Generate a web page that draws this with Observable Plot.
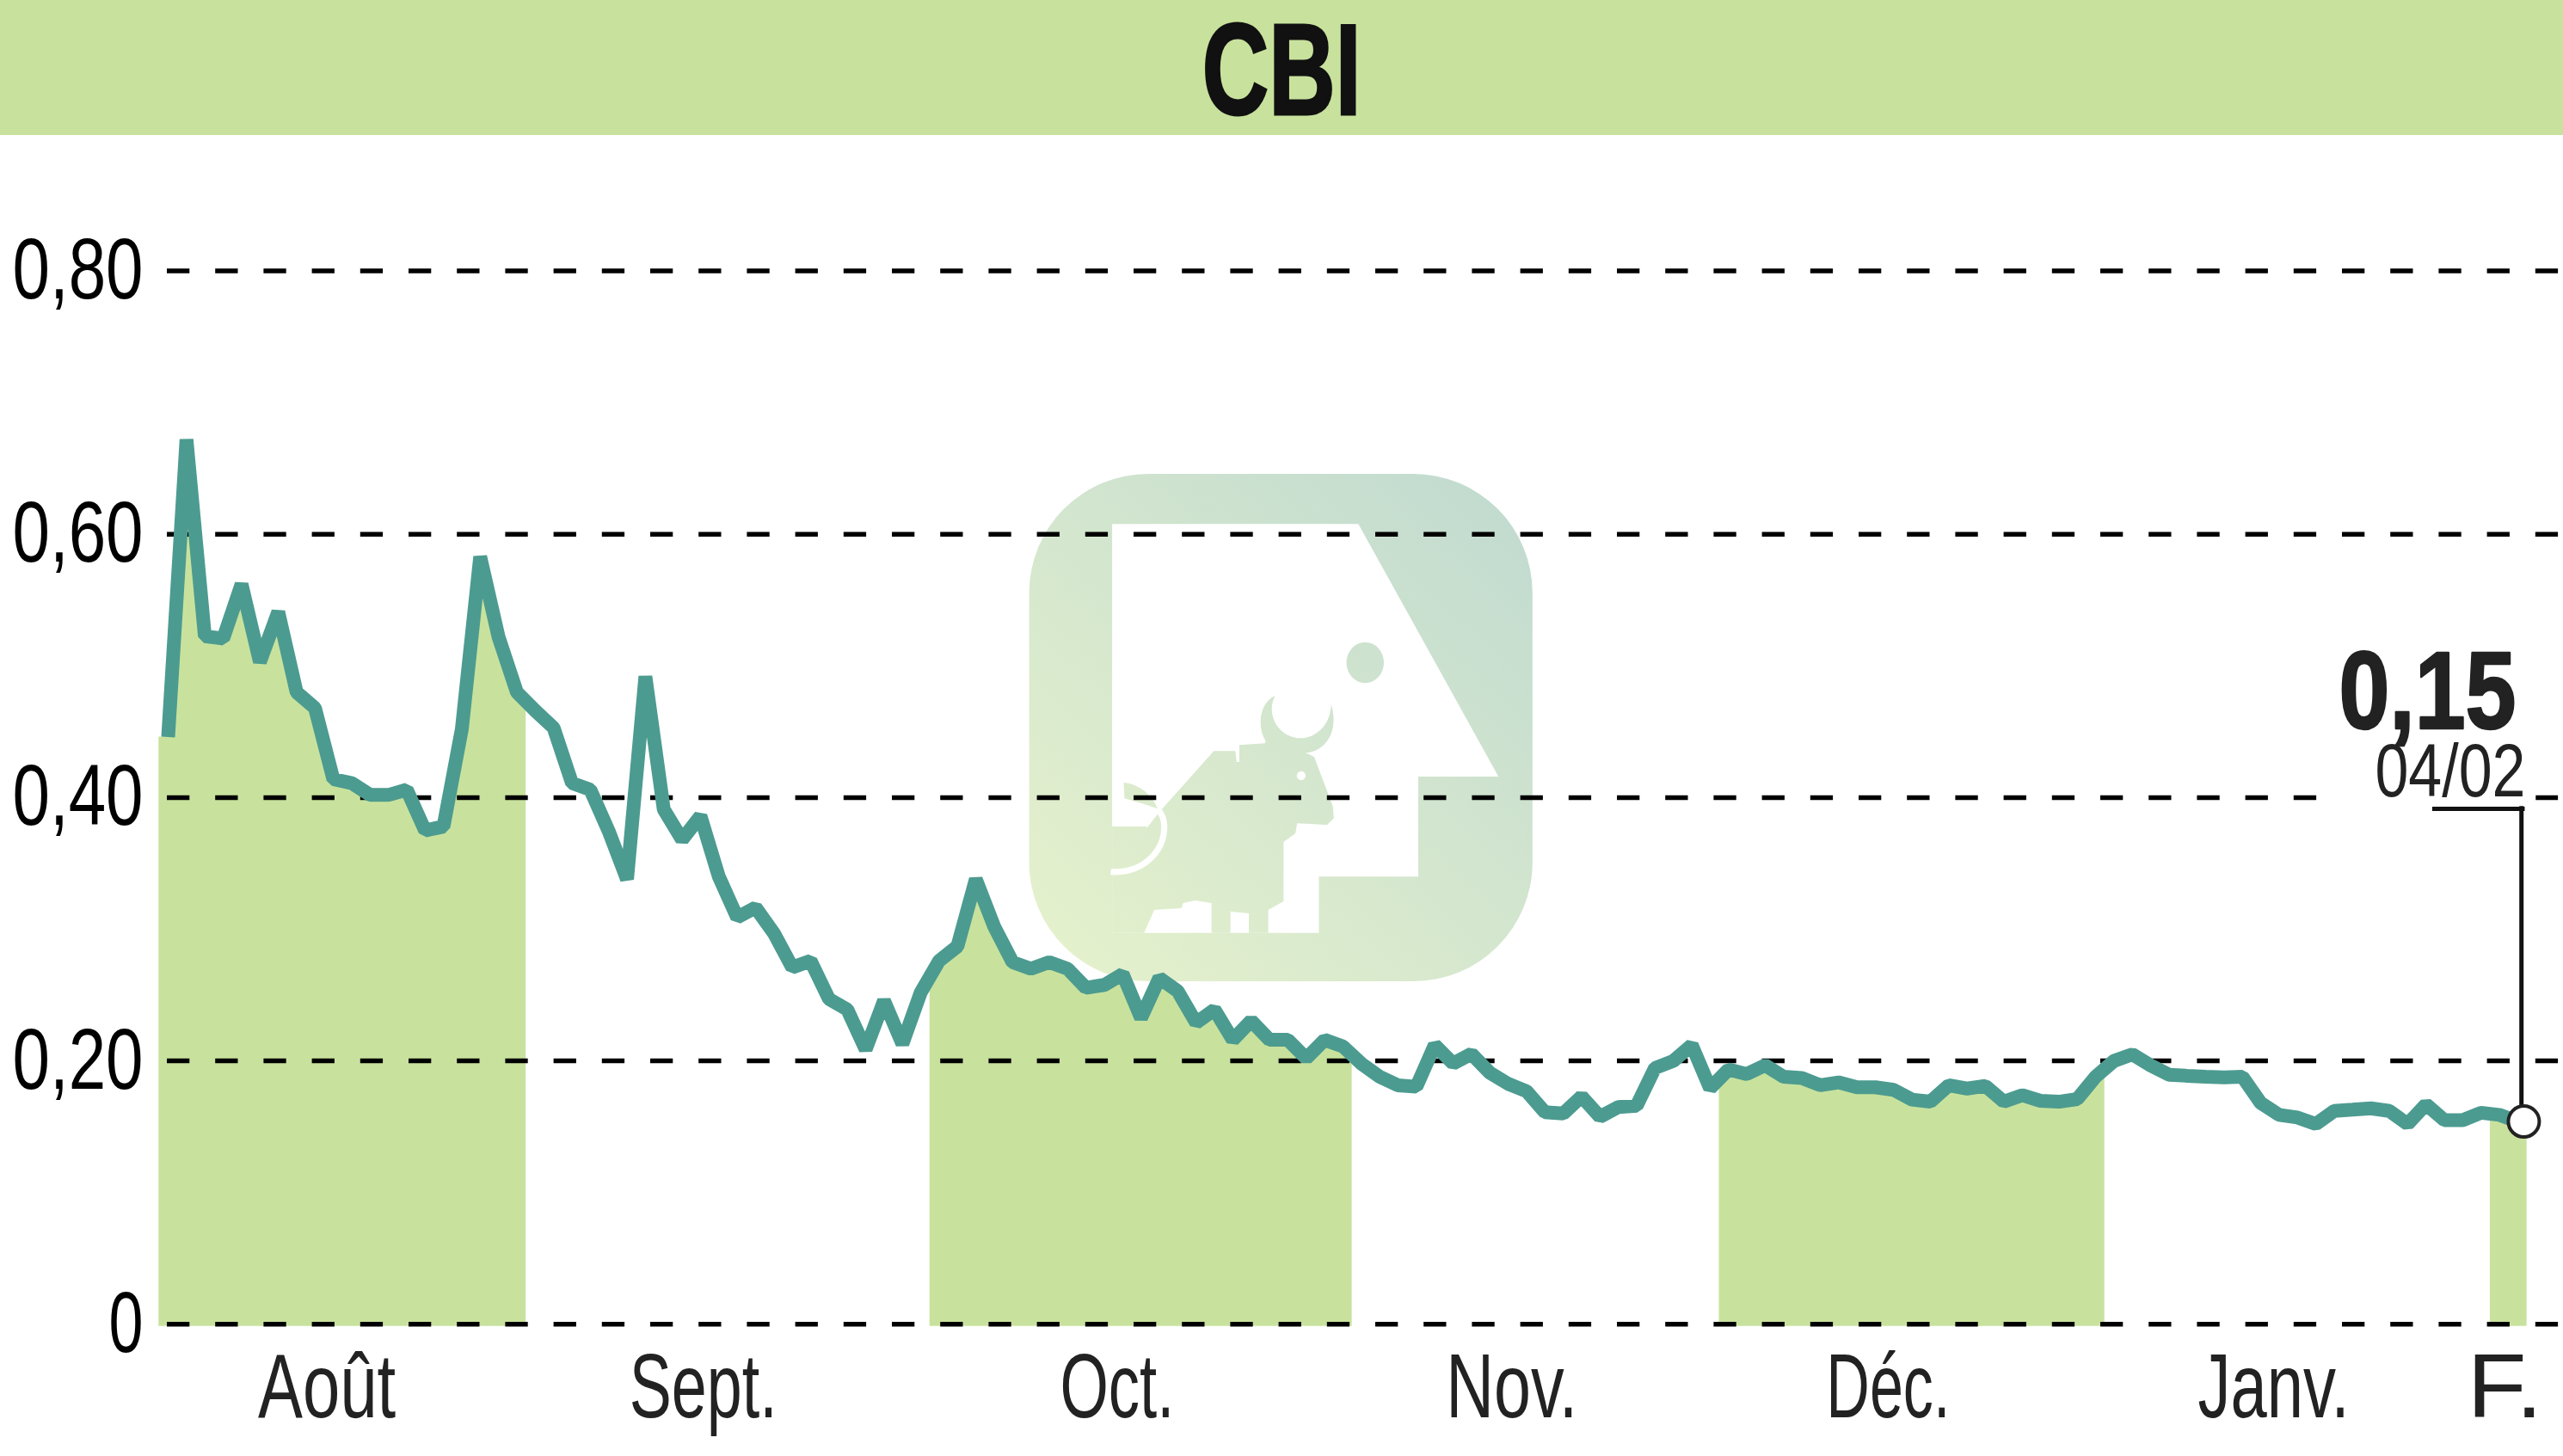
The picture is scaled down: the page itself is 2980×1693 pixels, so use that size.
<!DOCTYPE html>
<html lang="fr">
<head>
<meta charset="utf-8">
<title>CBI</title>
<script src="https://cdn.jsdelivr.net/npm/d3@7"></script>
<script src="https://cdn.jsdelivr.net/npm/@observablehq/plot@0.6"></script>
<style>
  html, body { margin: 0; padding: 0; background: #fff; width: 2980px; height: 1693px; overflow: hidden; }
  #stage { position: relative; width: 2980px; height: 1693px; }
  #band { position: absolute; left: 0; top: 0; width: 2980px; height: 157px; background: #c8e29d; text-align: center; }
  #band span { display: inline-block; font: bold 150px/162px "Liberation Sans", sans-serif; color: #111; -webkit-text-stroke: 3px #111; transform: scaleX(.715); }
  #logo { position: absolute; left: 1180px; top: 540px; width: 620px; height: 620px; }
  #chart { position: absolute; left: 0; top: 157px; }
</style>
</head>
<body>
<div id="stage">
  <div id="band"><span>CBI</span></div>
  <svg id="logo" viewBox="0 0 1568 1568" xmlns="http://www.w3.org/2000/svg">
    <defs>
      <linearGradient id="lg" gradientUnits="userSpaceOnUse" x1="150" y1="1500" x2="1450" y2="100">
        <stop offset="0" stop-color="#e5f1cc"/>
        <stop offset="1" stop-color="#c2dbd0"/>
      </linearGradient>
    </defs>
    <rect x="42" y="28" width="1480" height="1492" rx="350" fill="url(#lg)"/>
    <path fill="#fff" d="M286,175 L1010,175 L1422,918 L1186,918 L1186,1212 L894,1212 L894,1378 L286,1378 Z"/>
    <path fill="url(#lg)" d="M286,1065 L385,1065 L440,1005 L585,843 L648,843 L652,875 L660,875 L660,825 L735,820 L738,815 C710,770 720,700 765,680 C735,740 780,805 840,805 C890,805 930,760 930,705 C955,790 910,845 855,848 L880,860 L935,1005 L938,1040 L918,1060 L830,1055 L825,1085 L790,1110 L790,1285 L745,1310 L745,1378 L688,1378 L688,1320 L634,1315 L634,1378 L578,1378 L578,1290 L530,1282 L495,1290 L490,1305 L410,1310 L380,1378 L286,1378 Z"/>
    <path fill="url(#lg)" d="M320,935 Q390,945 420,1012 Q370,995 322,982 Z"/>
    <ellipse cx="1030" cy="583" rx="55" ry="60" fill="url(#lg)"/>
    <circle cx="842" cy="915" r="13" fill="#fff"/>
    <path fill="none" stroke="#fff" stroke-width="18" d="M282,1198 C380,1205 450,1130 438,1050 C435,1035 428,1022 420,1015"/>
    <path fill="none" stroke="#fff" stroke-width="10" d="M385,1065 L420,1020"/>
  </svg>
  <div id="chart"></div>
</div>
<script>
const values = [
  0.446, 0.672, 0.5225, 0.5208, 0.562, 0.503, 0.541, 0.48, 0.468, 0.414,
  0.411, 0.402, 0.402, 0.406, 0.375, 0.378, 0.452, 0.583, 0.522, 0.48,
  0.466, 0.453, 0.411, 0.406, 0.3745, 0.338, 0.492, 0.391, 0.368, 0.386,
  0.34, 0.309, 0.3165, 0.297, 0.271, 0.276, 0.247, 0.239, 0.2087, 0.2457,
  0.213, 0.252, 0.276, 0.287, 0.338, 0.302, 0.275, 0.27, 0.275, 0.27,
  0.2555, 0.2577, 0.266, 0.2327, 0.263, 0.253, 0.229, 0.239, 0.216, 0.2305,
  0.216, 0.216, 0.202, 0.216, 0.211, 0.198, 0.188, 0.1815, 0.1804, 0.212,
  0.198, 0.2054, 0.191, 0.1826, 0.177, 0.161, 0.16, 0.173, 0.1575, 0.165,
  0.166, 0.1946, 0.2, 0.212, 0.1793, 0.1935, 0.19, 0.1967, 0.188, 0.187,
  0.1815, 0.1837, 0.18, 0.18, 0.178, 0.1706, 0.169, 0.1815, 0.179, 0.181,
  0.169, 0.174, 0.1697, 0.169, 0.171, 0.188, 0.2, 0.205, 0.1966, 0.1895,
  0.1887, 0.188, 0.1875, 0.188, 0.168, 0.159, 0.157, 0.152, 0.162, 0.163,
  0.164, 0.162, 0.152, 0.167, 0.155, 0.155, 0.1606, 0.159, 0.154
];
const monthStarts = [0, 20, 42, 65, 85, 106, 127];
const shadedMonths = [0, 2, 4, 6];
const monthLabels = ["Août", "Sept.", "Oct.", "Nov.", "Déc.", "Janv.", "F."];
const monthLabelPositions = [8.65, 29.15, 51.7, 73.2, 93.7, 114.7, 127.3];
const monthLabelWidths = [160, 172, 133, 153, 144, 176, 88];
const yTicks = [0, 0.2, 0.4, 0.6, 0.8];
const lastValueLabel = "0,15";
const lastDateLabel = "04/02";

const sessions = values.map((v, i) => ({i, v}));
const last = sessions[sessions.length - 1];
const commaTick = v => v === 0 ? "0" : v.toFixed(2).replace(".", ",");

const bands = shadedMonths.map(m => {
  const s = monthStarts[m];
  const e = m + 1 < monthStarts.length ? monthStarts[m + 1] : values.length;
  const pts = sessions.slice(s, e);
  const left = s === 0 ? values[0] : (values[s - 1] + values[s]) / 2;
  const right = e === values.length ? values[e - 1] : (values[e - 1] + values[e]) / 2;
  return [{i: s - 0.5, v: left}, ...pts, {i: e - 0.5, v: right}];
});

const ink = "#222";
const narrow = '"Liberation Sans", sans-serif';

const plot = Plot.plot({
  width: 2980,
  height: 1536,
  marginLeft: 194,
  marginRight: 0,
  marginTop: 157.5,
  marginBottom: 153.7,
  style: {background: "transparent", fontFamily: narrow, overflow: "visible"},
  x: {type: "linear", domain: [-0.5, 128.5], range: [184.3, 2937.6]},
  y: {domain: [0, 0.8]},
  marks: [
    ...bands.map(b => Plot.areaY(b, {x: "i", y1: () => -0.0016, y2: "v", fill: "#c8e29d", curve: "linear"})),
    Plot.ruleY(yTicks, {stroke: "#000", strokeWidth: 5.5, strokeDasharray: "26.3 29.9", strokeOpacity: 1}),
    Plot.rect([{x1: 117.3, x2: 129, y1: 0.394, y2: 0.406}], {x1: "x1", x2: "x2", y1: "y1", y2: "y2", fill: "#fff"}),
    Plot.line(sessions, {x: "i", y: "v", stroke: "#4c9b90", strokeWidth: 16, strokeLinejoin: "bevel", strokeLinecap: "butt", curve: "linear"}),
    Plot.ruleY([0.3915], {x1: 123.36, x2: 128.4, stroke: "#111", strokeWidth: 5}),
    Plot.ruleX([128.2], {y1: 0.3932, y2: last.v, stroke: "#111", strokeWidth: 5}),
    Plot.dot([last], {x: "i", y: "v", r: 18, dx: 7, fill: "#fff", stroke: "#222", strokeWidth: 4}),
    Plot.axisY({ticks: yTicks, tickFormat: commaTick, tickSize: 0, tickPadding: 28, fontSize: 100, fill: "#000", label: null}),
    Plot.axisX({ticks: monthLabelPositions, tickFormat: (d, k) => monthLabels[k], tickSize: 0, tickPadding: 34, fontSize: 105, fill: ink, label: null}),
    Plot.text([lastValueLabel], {x: 128, y: 0.4509, dx: -2, dy: -2, text: d => d, textAnchor: "end", lineAnchor: "bottom", fontSize: 128, fontWeight: "bold", fill: ink, stroke: ink, strokeWidth: 2.5, fontFamily: narrow}),
    Plot.text([lastDateLabel], {x: 128, y: 0.4, dx: 9, dy: -1, text: d => d, textAnchor: "end", lineAnchor: "bottom", fontSize: 88, fill: ink, fontFamily: narrow})
  ]
});
document.getElementById("chart").appendChild(plot);

const fitWidths = new Map([
  ...monthLabels.map((t, k) => [t, monthLabelWidths[k]]),
  ["0", 40], ["0,20", 152], ["0,40", 152], ["0,60", 152], ["0,80", 152],
  [lastValueLabel, 206], [lastDateLabel, 175]
]);
d3.select(plot).selectAll("text").each(function () {
  const w = fitWidths.get(this.textContent.trim());
  if (w) {
    this.setAttribute("textLength", w);
    this.setAttribute("lengthAdjust", "spacingAndGlyphs");
  }
});
</script>
</body>
</html>
